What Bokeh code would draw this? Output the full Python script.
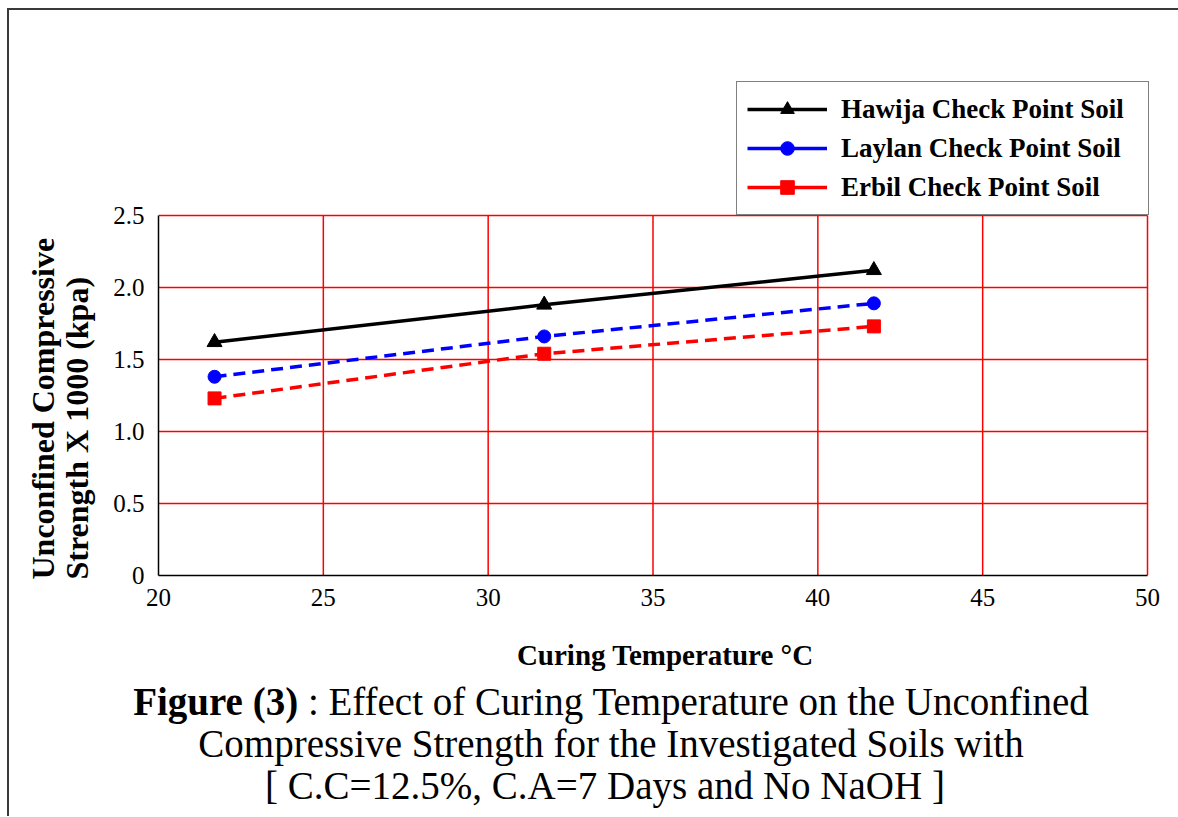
from bokeh.plotting import figure
from bokeh.models import Legend, LegendItem, Title, FixedTicker, Range1d, Div
from bokeh.layouts import column
from bokeh.embed import file_html
from bokeh.resources import INLINE

# ---- data ----
temperature = [21.7, 31.7, 41.7]
hawija = [1.62, 1.88, 2.12]
laylan = [1.38, 1.66, 1.89]
erbil = [1.23, 1.54, 1.73]
series_names = ["Hawija Check Point Soil", "Laylan Check Point Soil", "Erbil Check Point Soil"]
x_ticks = [20, 25, 30, 35, 40, 45, 50]
y_ticks = [0, 0.5, 1.0, 1.5, 2.0, 2.5]
y_tick_labels = ["0", "0.5", "1.0", "1.5", "2.0", "2.5"]
x_title = "Curing Temperature \u00b0C"
y_title = ["Unconfined Compressive", "Strength X 1000 (kpa)"]
caption_bold = "Figure (3)"
caption_lines = [" : Effect of Curing Temperature on the Unconfined",
                 "Compressive Strength for the Investigated Soils with",
                 "[ C.C=12.5%, C.A=7 Days and No NaOH ]"]

SERIF = "Liberation Serif"
GRID_RED = "#FF0000"

# frame: x 20..50 over 990px, y 0..2.5 over 360px; extra room above for the legend
x_lo, x_hi = x_ticks[0], x_ticks[-1]
y_lo, y_hi = y_ticks[0], y_ticks[-1]
px_per_x = 990 / (x_hi - x_lo)
px_per_y = 360 / (y_hi - y_lo)
frame_w, frame_h = 997, 515

p = figure(width=1160, height=610,
           x_range=Range1d(x_lo, x_lo + frame_w / px_per_x),
           y_range=Range1d(y_lo, y_lo + frame_h / px_per_y),
           output_backend="svg", toolbar_location=None,
           min_border_left=148, min_border_right=1160 - 148 - frame_w,
           min_border_top=50, min_border_bottom=45)
p.background_fill_color = "white"
p.border_fill_color = "white"
p.outline_line_color = None
p.grid.visible = False

p.xaxis.ticker = FixedTicker(ticks=x_ticks)
p.yaxis.ticker = FixedTicker(ticks=y_ticks)
p.xaxis.bounds = (x_lo, x_hi)
p.yaxis.bounds = (y_lo, y_hi)
p.yaxis.major_label_overrides = {float(t): l for t, l in zip(y_ticks, y_tick_labels)}

for ax in (p.xaxis, p.yaxis):
    ax.axis_line_color = "black"
    ax.axis_line_width = 1.5
    ax.major_tick_line_color = None
    ax.minor_tick_line_color = None
    ax.major_tick_out = 0
    ax.major_tick_in = 0
    ax.major_label_text_font = SERIF
    ax.major_label_text_font_size = "25px"
    ax.major_label_text_color = "black"
p.xaxis.major_label_standoff = 13
p.yaxis.major_label_standoff = 14

# red grid lines (incl. the top and right border of the plot area), from the tick lists
vx = x_ticks[1:]
p.segment(x0=vx, y0=[y_lo] * len(vx), x1=vx, y1=[y_hi] * len(vx),
          line_color=GRID_RED, line_width=1.5)
hy = y_ticks[1:]
p.segment(x0=[x_lo] * len(hy), y0=hy, x1=[x_hi] * len(hy), y1=hy,
          line_color=GRID_RED, line_width=1.5)

# ---- series ----
p.line(temperature, hawija, line_color="black", line_width=3.5)
h_pts = p.scatter(temperature, hawija, marker="triangle", size=15, color="black")
p.line(temperature, laylan, line_color="#0000FF", line_width=3.5, line_dash="12 7")
l_pts = p.scatter(temperature, laylan, marker="circle", size=13, color="#0000FF")
p.line(temperature, erbil, line_color="#FF0000", line_width=3.5, line_dash="12 7")
e_pts = p.scatter(temperature, erbil, marker="square", size=13, color="#FF0000")

# solid keys for the legend (not drawn in the plot)
h_key = p.line(temperature, hawija, line_color="black", line_width=3.5, visible=False)
l_key = p.line(temperature, laylan, line_color="#0000FF", line_width=3.5, visible=False)
e_key = p.line(temperature, erbil, line_color="#FF0000", line_width=3.5, visible=False)

legend = Legend(items=[
    LegendItem(label=series_names[0], renderers=[h_key, h_pts]),
    LegendItem(label=series_names[1], renderers=[l_key, l_pts]),
    LegendItem(label=series_names[2], renderers=[e_key, e_pts]),
], location=(578, 360))
legend.border_line_color = "black"
legend.border_line_width = 1.5
legend.background_fill_color = "white"
legend.background_fill_alpha = 1
legend.padding = 10
legend.spacing = 5
legend.margin = 0
legend.glyph_width = 80
legend.glyph_height = 34
legend.label_height = 34
legend.label_width = 297
legend.label_standoff = 14
legend.label_text_font = SERIF
legend.label_text_font_style = "bold"
legend.label_text_font_size = "27px"
legend.label_text_color = "black"
p.add_layout(legend)

# ---- y-axis title (two lines, left aligned from the bottom) ----
p.add_layout(Title(text="\n".join(y_title), align="left", offset=-4, vertical_align="middle",
                   standoff=29, text_font=SERIF, text_font_style="bold",
                   text_font_size="32px", text_color="black", text_line_height=0.95), "left")

# ---- x-axis title and caption below the plot ----
def line_div(txt, pad, extra=""):
    return (f'<div style="box-sizing:border-box; width:1160px; padding-left:{pad}px; '
            f'text-align:center; white-space:nowrap; {extra}">{txt}</div>')

cap_html = (
    '<div style="padding-top:10px; font-family:\'Liberation Serif\'; color:black;">'
    + line_div(x_title, 142, "font-size:29px; font-weight:bold; height:40px; line-height:40px; margin-bottom:6px;")
    + line_div(f'<b>{caption_bold}</b>{caption_lines[0]}', 34, "font-size:39px; line-height:42px;")
    + line_div(caption_lines[1], 34, "font-size:39px; line-height:42px;")
    + line_div(caption_lines[2], 22, "font-size:39px; line-height:42px;")
    + '</div>'
)
cap = Div(text=cap_html, width=1160, height=186)

layout = column(p, cap, spacing=0,
                styles={"margin-left": "7px", "margin-top": "8px",
                        "border-top": "2px solid #3a3a3a", "border-left": "2px solid #3a3a3a"})

open("out.html", "w").write(file_html(layout, INLINE))
